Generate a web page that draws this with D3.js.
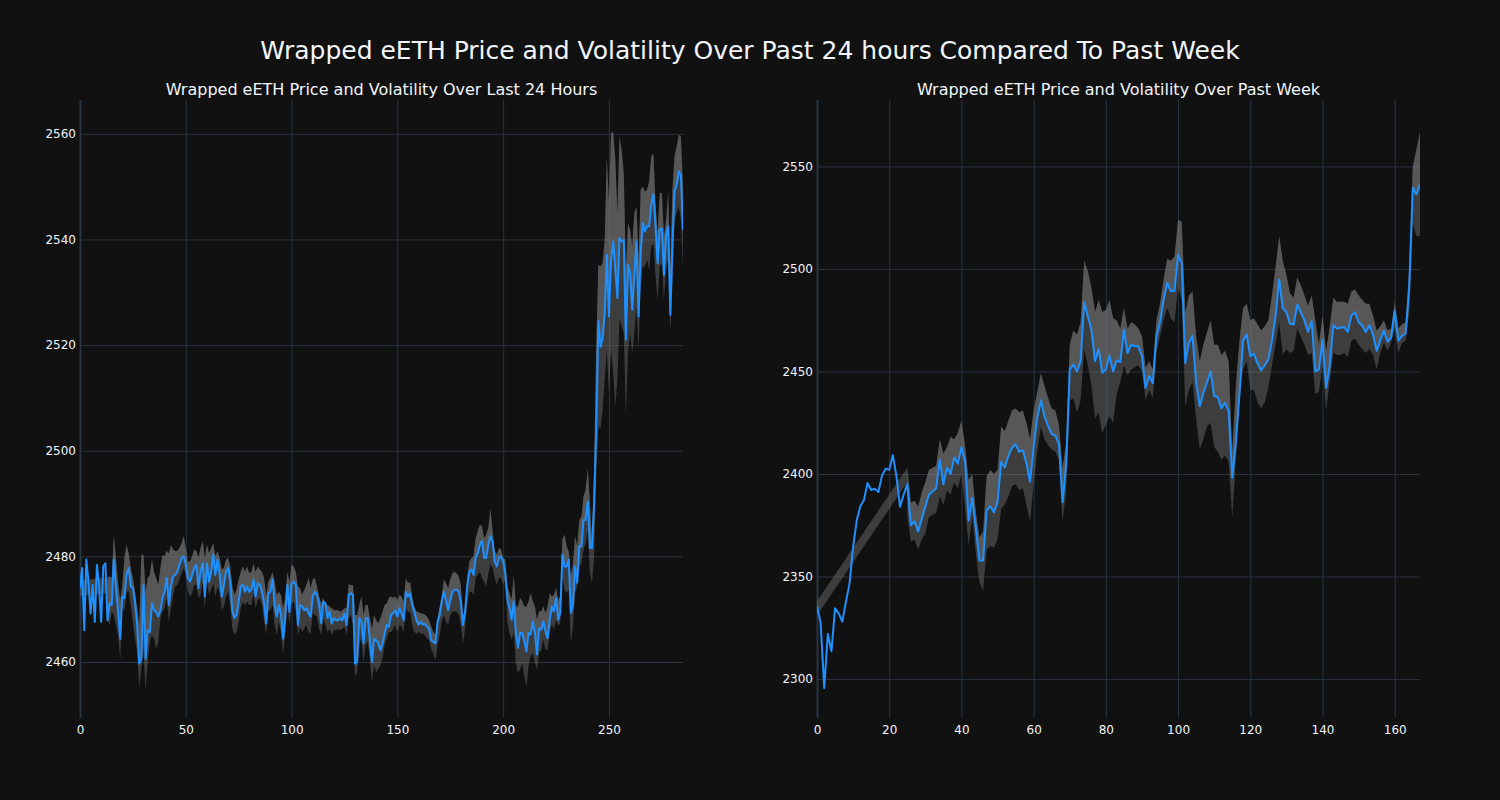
<!DOCTYPE html>
<html>
<head>
<meta charset="utf-8">
<script src="https://cdn.jsdelivr.net/npm/d3@7"></script>
<style>
  html, body { margin: 0; padding: 0; background: #111111; }
  svg { display: block; }
  text { font-family: "DejaVu Sans", Verdana, sans-serif; }
</style>
</head>
<body>
<svg id="chart" width="1500" height="800"></svg>
<script>
// ---------------- DATA ----------------
const mainTitle = "Wrapped eETH Price and Volatility Over Past 24 hours Compared To Past Week";
const dayTitle = "Wrapped eETH Price and Volatility Over Last 24 Hours";
const weekTitle = "Wrapped eETH Price and Volatility Over Past Week";

const dayXTicks = [0, 50, 100, 150, 200, 250];
const dayYTicks = [2460, 2480, 2500, 2520, 2540, 2560];
const weekXTicks = [0, 20, 40, 60, 80, 100, 120, 140, 160];
const weekYTicks = [2300, 2350, 2400, 2450, 2500, 2550];

const dayPrice = [
2474.0,2477.8,2466.0,2479.4,2475.2,2469.2,2474.6,2467.6,2478.4,2474.6,
2467.6,2478.1,2478.7,2467.9,2471.1,2470.8,2479.4,2474.0,2469.5,2464.4,
2472.4,2472.1,2476.5,2477.8,2474.3,2474.0,2471.4,2467.0,2459.7,2460.6,
2474.6,2460.6,2466.0,2465.7,2471.1,2469.8,2469.5,2468.6,2469.8,2472.1,
2473.3,2475.9,2470.8,2474.3,2476.2,2476.5,2477.1,2478.4,2479.7,2480.0,
2478.4,2475.9,2475.2,2476.5,2477.8,2478.4,2474.0,2477.1,2478.7,2472.4,
2478.7,2475.2,2477.1,2480.3,2476.5,2479.4,2476.5,2472.4,2474.6,2477.1,
2477.8,2475.2,2469.5,2468.3,2468.9,2471.4,2474.3,2474.6,2473.3,2474.3,
2473.3,2473.7,2475.6,2472.4,2474.9,2474.6,2473.3,2471.1,2467.3,2473.0,
2473.3,2475.6,2470.8,2468.6,2470.8,2468.9,2464.4,2468.3,2474.6,2469.5,
2474.8,2475.2,2474.6,2467.0,2470.8,2470.5,2469.8,2470.2,2469.2,2468.6,
2472.4,2473.3,2472.7,2470.8,2467.3,2471.4,2471.1,2468.3,2469.5,2467.3,
2468.3,2467.9,2467.9,2468.3,2467.9,2469.2,2467.0,2472.7,2473.0,2472.7,
2459.7,2460.0,2468.3,2467.6,2463.5,2468.3,2468.3,2464.1,2460.0,2464.4,
2464.1,2463.5,2462.2,2463.5,2465.4,2467.0,2466.7,2468.9,2469.2,2469.8,
2468.6,2470.2,2469.2,2467.9,2473.3,2472.4,2473.0,2470.8,2469.5,2467.9,
2467.1,2467.6,2467.1,2467.2,2466.7,2466.3,2464.1,2463.8,2463.5,2467.6,
2468.9,2471.4,2473.3,2471.7,2469.8,2471.7,2473.3,2473.7,2473.7,2473.3,
2471.4,2467.0,2469.5,2474.3,2477.1,2477.5,2476.5,2479.7,2480.6,2482.2,
2482.9,2479.7,2479.7,2482.2,2483.8,2482.9,2479.0,2478.1,2479.7,2480.0,
2479.0,2476.8,2471.8,2470.2,2468.0,2471.5,2465.5,2462.7,2465.5,2465.5,
2463.9,2462.0,2465.5,2465.2,2467.7,2465.5,2461.4,2466.4,2466.1,2467.7,
2465.8,2464.5,2468.0,2470.5,2469.6,2472.1,2468.0,2469.3,2480.3,2478.1,
2478.1,2479.4,2469.3,2470.9,2478.1,2475.0,2481.9,2481.9,2486.9,2486.9,
2490.4,2481.6,2481.6,2490.1,2504.0,2524.5,2519.7,2521.3,2526.0,2537.1,
2525.4,2536.0,2539.6,2534.3,2528.9,2540.3,2539.6,2539.9,2521.0,2535.2,
2533.6,2526.7,2533.0,2539.6,2525.4,2537.4,2543.1,2541.5,2542.5,2542.5,
2546.6,2548.5,2542.5,2535.5,2541.8,2542.1,2533.3,2540.6,2542.5,2525.7,
2538.7,2549.1,2550.3,2552.9,2552.2,2541.8
];

const dayUpper = [
2475.5,null,null,null,null,null,null,null,null,null,
null,null,null,2476.0,2476.2,2475.9,2484.1,2479.7,2474.9,2471.7,
2474.6,2479.7,2482.2,2480.6,2477.8,2475.9,2473.3,2470.2,2467.0,2480.3,
2480.3,2473.3,2475.9,2476.5,2479.4,2477.1,2475.9,2474.6,2477.8,2480.3,
2480.0,2481.0,2480.6,2482.2,2481.3,2481.0,2481.0,2481.6,2482.5,2483.8,
2481.6,2479.0,2479.0,2480.0,2481.3,2481.0,2479.7,2481.6,2482.9,2479.7,
2482.2,2480.6,2481.6,2482.5,2480.0,2481.0,2479.7,2477.5,2477.8,2479.4,
2479.7,2478.1,2474.3,2472.7,2473.7,2475.6,2477.1,2478.1,2477.1,2478.1,
2476.8,2477.1,2478.7,2477.1,2478.1,2477.5,2477.1,2475.9,2472.4,2475.2,
2475.9,2477.1,2475.2,2472.7,2473.3,2472.7,2470.2,2472.1,2477.1,2475.2,
2478.4,2478.1,2477.1,2474.3,2474.0,2472.7,2473.7,2474.6,2475.9,2474.0,
2475.6,2475.9,2474.3,2472.4,2471.1,2472.1,2471.1,2470.8,2470.5,2470.2,
2469.8,2469.8,2469.8,2469.5,2469.8,2470.2,2470.2,2474.7,2474.6,2474.6,
2468.9,2468.9,2470.8,2472.4,2468.9,2470.8,2470.8,2468.3,2466.3,2468.9,
2467.9,2467.3,2468.3,2469.5,2470.8,2471.1,2472.1,2472.4,2472.1,2472.4,
2471.7,2472.7,2472.4,2471.4,2475.9,2474.9,2475.2,2472.4,2470.5,2469.5,
2469.5,2469.2,2469.2,2469.0,2468.6,2467.9,2466.7,2465.7,2465.1,2468.3,
2470.5,2472.7,2475.6,2474.9,2474.0,2475.6,2476.8,2477.1,2476.8,2476.2,
2474.6,2468.9,2470.2,2475.9,2479.0,2479.7,2480.0,2483.5,2484.8,2486.0,
2485.7,2483.5,2484.1,2485.4,2489.0,2484.8,2481.0,2480.3,2481.6,2481.3,
2479.7,2479.4,2474.3,2473.0,2471.8,2476.5,2470.5,2470.5,2472.1,2471.5,
2470.5,2470.5,2471.5,2473.0,2471.5,2470.5,2468.0,2469.6,2469.6,2470.5,
2469.3,2470.5,2473.0,2472.4,2472.7,2474.0,2471.8,2472.4,2483.2,2484.1,
2481.9,2480.9,2476.2,2478.7,2483.8,2481.9,2486.9,2487.5,2491.4,2492.6,
2496.7,2490.1,2483.2,2497.0,2520.0,2535.2,2534.9,2535.5,2539.9,2555.7,
2546.9,2560.1,2560.4,2555.1,2545.0,2559.5,2557.0,2552.6,2534.3,2543.1,
2541.8,2538.7,2545.0,2546.2,2536.2,2549.4,2550.0,2549.1,2549.4,2551.0,
2555.7,2556.3,2546.9,2541.2,2548.8,2548.8,2540.6,2543.7,2549.1,2534.3,
2549.4,2555.7,2557.6,2559.8,2559.5,2550.0
];

const dayLower = [
2472.5,null,null,null,null,null,null,null,null,null,
null,null,null,2468.0,2467.0,2469.5,2468.9,2467.0,2465.1,2460.3,
2470.8,2469.5,2473.3,2473.3,2470.8,2467.6,2464.4,2461.9,2455.2,2458.7,
2461.9,2454.9,2460.0,2463.8,2465.1,2464.4,2462.5,2463.8,2468.3,2469.5,
2470.2,2472.1,2467.6,2470.2,2472.7,2474.3,2474.6,2475.6,2476.8,2477.8,
2476.5,2473.3,2472.4,2473.0,2474.6,2474.6,2472.1,2472.7,2475.2,2470.2,
2475.2,2472.7,2473.7,2474.9,2472.4,2474.3,2473.0,2469.8,2470.5,2472.4,
2473.3,2470.8,2466.3,2465.1,2465.7,2467.6,2470.2,2471.4,2470.8,2471.4,
2470.8,2470.8,2473.0,2470.2,2471.7,2472.1,2470.8,2467.9,2465.1,2469.5,
2469.8,2470.8,2467.0,2465.1,2467.6,2465.7,2461.6,2465.1,2471.1,2467.0,
2471.1,2471.4,2469.5,2465.1,2466.7,2465.7,2466.3,2467.0,2465.7,2465.4,
2469.2,2468.9,2468.6,2466.3,2465.1,2468.3,2467.0,2465.7,2466.3,2465.1,
2466.0,2466.0,2466.3,2466.0,2466.3,2466.7,2465.1,2468.3,2468.9,2467.0,
2457.1,2458.1,2463.2,2464.4,2460.0,2463.2,2463.8,2460.6,2456.2,2459.4,
2458.1,2458.7,2459.4,2460.6,2463.2,2464.4,2465.7,2465.7,2466.3,2467.0,
2465.7,2467.0,2466.7,2465.7,2470.2,2469.5,2469.5,2467.0,2465.7,2465.4,
2465.7,2465.4,2465.4,2465.1,2464.4,2464.1,2462.5,2461.6,2460.3,2463.2,
2465.1,2467.6,2468.9,2467.6,2467.0,2468.9,2469.5,2469.5,2469.5,2468.9,
2467.0,2463.5,2466.3,2470.8,2473.3,2473.3,2472.7,2475.9,2476.5,2477.1,
2475.9,2475.2,2474.3,2476.8,2478.4,2477.8,2475.9,2474.6,2475.9,2475.9,
2474.6,2475.6,2467.4,2465.5,2464.2,2465.5,2459.8,2457.9,2458.6,2459.8,
2457.3,2455.4,2459.2,2461.1,2461.7,2459.8,2458.6,2461.7,2462.3,2464.2,
2462.3,2462.3,2465.5,2467.1,2466.1,2468.0,2466.8,2467.4,2476.2,2473.7,
2473.1,2473.7,2463.6,2466.8,2473.1,2474.3,2478.1,2478.7,2481.3,2482.5,
2485.0,2476.8,2475.0,2480.0,2496.0,2504.6,2504.0,2507.8,2513.4,2519.1,
2510.9,2519.1,2514.7,2508.4,2513.4,2524.8,2523.5,2522.3,2506.5,2518.5,
2522.3,2518.5,2522.3,2527.3,2519.1,2531.1,2534.9,2534.9,2536.2,2534.3,
2538.7,2539.3,2533.0,2528.6,2534.9,2535.5,2528.6,2534.3,2536.2,2522.3,
2531.1,2543.7,2545.0,2546.2,2543.7,2534.3
];

const weekPrice = [
2335.5,2327.5,2295.6,2322.0,2313.5,2334.5,2332.0,2328.0,2337.5,2346.4,
2364.3,2377.3,2384.3,2387.3,2395.6,2392.2,2392.8,2391.2,2399.2,2402.6,
2402.0,2409.2,2399.0,2384.0,2390.0,2395.0,2375.0,2377.0,2372.0,2378.0,
2384.0,2390.0,2391.5,2393.0,2407.0,2395.0,2403.0,2400.0,2408.0,2405.0,
2413.0,2406.0,2377.3,2388.3,2373.3,2357.8,2357.8,2382.3,2384.3,2381.3,
2386.3,2406.0,2403.2,2408.8,2412.7,2414.5,2410.8,2411.6,2405.2,2396.2,
2413.2,2427.5,2436.0,2428.0,2423.5,2419.5,2418.7,2414.7,2386.3,2404.2,
2451.0,2453.4,2450.0,2455.0,2483.9,2476.9,2470.3,2455.0,2461.0,2449.4,
2451.0,2457.6,2450.0,2455.4,2454.6,2470.3,2459.0,2463.0,2462.4,2462.2,
2457.4,2442.0,2447.8,2444.4,2467.0,2474.0,2485.0,2493.2,2489.2,2489.2,
2506.8,2502.8,2454.0,2464.0,2467.3,2444.6,2433.0,2439.4,2444.6,2450.0,
2438.0,2437.4,2432.0,2434.7,2430.7,2398.2,2415.1,2439.0,2465.0,2468.0,
2457.4,2458.6,2454.0,2450.6,2453.0,2455.8,2465.0,2476.9,2494.8,2480.9,
2478.9,2473.3,2472.9,2482.5,2478.9,2474.9,2469.3,2474.5,2450.0,2451.0,
2465.3,2442.0,2453.0,2472.5,2470.9,2471.3,2471.7,2469.3,2477.3,2478.9,
2474.0,2472.3,2469.3,2472.5,2467.9,2460.0,2465.3,2469.9,2464.5,2466.5,
2479.3,2465.0,2467.3,2468.5,2489.8,2539.6,2536.3,2541.2
];

const weekUpper = [
2338,null,null,null,null,null,null,null,null,null,
null,null,null,null,null,null,null,null,null,null,
null,null,null,null,null,2403,2386,2387,2384,2391,
2396,2402,2403,2404,2417,2410,2413,2418,2417,2420,
2426,2414,2397,2400,2381,2369,2372,2399,2402,2400,
2402,2423,2421,2426,2431,2432,2430,2431,2425,2417,
2431,2440,2449,2443,2437,2432,2431,2424,2403,2415,
2463,2470,2468,2474,2504,2499,2491,2479,2485,2479,
2480,2485,2476,2475,2471,2481,2471,2474,2473,2471,
2467,2452,2455,2451,2475,2483,2495,2505,2504,2506,
2524,2523,2479,2487,2489,2467,2455,2463,2469,2475,
2463,2463,2458,2460,2455,2411,2443,2465,2481,2483,
2475,2476,2473,2470,2472,2475,2487,2501,2516,2504,
2497,2488,2486,2496,2492,2487,2482,2487,2475,2463,
2477,2460,2472,2486,2484,2484,2484,2483,2489,2490,
2487,2485,2483,2483,2477,2470,2472,2475,2470,2471,
2484,2471,2473,2474,2500,2550,2558,2567
];

const weekLower = [
2331,null,null,null,null,null,null,null,null,null,
null,null,null,null,null,null,null,null,null,null,
null,null,null,null,null,2380,2367,2368,2363,2368,
2371,2379,2380,2381,2389,2385,2392,2390,2396,2393,
2400,2383,2365,2379,2361,2347,2343,2363,2365,2364,
2368,2383,2385,2389,2394,2395,2392,2393,2385,2377,
2395,2411,2423,2417,2414,2412,2411,2407,2377,2391,
2436,2437,2430,2436,2461,2453,2443,2427,2430,2420,
2424,2428,2425,2439,2445,2453,2448,2451,2452,2453,
2450,2436,2441,2437,2459,2467,2475,2481,2476,2474,
2491,2485,2433,2441,2445,2427,2412,2417,2423,2425,
2413,2411,2407,2409,2406,2379,2407,2437,2451,2455,
2441,2441,2435,2432,2435,2442,2453,2463,2474,2458,
2461,2459,2460,2471,2467,2463,2458,2459,2439,2440,
2453,2431,2445,2459,2458,2458,2459,2457,2465,2466,
2463,2461,2459,2461,2458,2451,2459,2464,2460,2464,
2471,2459,2464,2465,2478,2522,2516,2516
];

// ---------------- STYLE / LAYOUT ----------------
const BG = "#111111";
const GRID = "#283442";
const TEXT = "#f2f5fa";
const LINE = "#1E90FF";
const BAND = "rgba(128,128,128,0.4)";
const FONT = '"DejaVu Sans", Verdana, sans-serif';

const svg = d3.select("#chart");
svg.append("rect").attr("width", 1500).attr("height", 800).attr("fill", BG);

svg.append("text")
  .attr("x", 750).attr("y", 59)
  .attr("text-anchor", "middle")
  .attr("fill", TEXT)
  .style("font-size", "25px")
  .text(mainTitle);

function drawPanel(cfg, id) {
  const x = d3.scaleLinear().domain([0, cfg.price.length - 1]).range([cfg.left, cfg.right]);
  const y = d3.scaleLinear().domain(cfg.yDomain).range([cfg.bottom, cfg.top]);
  const g = svg.append("g");

  // subplot title
  g.append("text")
    .attr("x", (cfg.left + cfg.right) / 2).attr("y", cfg.top - 5)
    .attr("text-anchor", "middle").attr("fill", TEXT)
    .style("font-size", "16px")
    .text(cfg.title);

  // grid + tick labels via axes
  const yAxis = d3.axisLeft(y).tickValues(cfg.yTicks).tickSize(-(cfg.right - cfg.left)).tickPadding(4).tickFormat(d3.format("d"));
  const yg = g.append("g").attr("transform", `translate(${cfg.left},0)`).call(yAxis);
  yg.select(".domain").remove();
  yg.selectAll("line").attr("stroke", GRID).attr("stroke-width", 1);
  yg.selectAll("text").attr("fill", TEXT).style("font-size", "12px").style("font-family", FONT);

  const xAxis = d3.axisBottom(x).tickValues(cfg.xTicks).tickSize(-(cfg.bottom - cfg.top)).tickPadding(7).tickFormat(d3.format("d"));
  const xg = g.append("g").attr("transform", `translate(0,${cfg.bottom})`).call(xAxis);
  xg.select(".domain").remove();
  xg.selectAll("line").attr("stroke", GRID).attr("stroke-width", d => d === 0 ? 2 : 1);
  xg.selectAll("text").attr("fill", TEXT).style("font-size", "12px").style("font-family", FONT);

  // clip
  svg.append("clipPath").attr("id", "clip" + id).append("rect")
    .attr("x", cfg.left).attr("y", cfg.top)
    .attr("width", cfg.right - cfg.left).attr("height", cfg.bottom - cfg.top);
  const plot = g.append("g").attr("clip-path", `url(#clip${id})`);

  const idx = d3.range(cfg.price.length);
  const firstFull = idx.find(i => i > 0 && cfg.upper[i] != null);

  // leading thin connector band (from index 0 to first full window)
  const w0 = cfg.upper[0] - cfg.lower[0];
  const connector = [
    [x(0), y(cfg.upper[0])], [x(firstFull), y(cfg.upper[firstFull])],
    [x(firstFull), y(cfg.upper[firstFull] - w0)], [x(0), y(cfg.lower[0])]
  ];
  plot.append("path").attr("d", "M" + connector.join("L") + "Z").attr("fill", BAND);

  // band between lower and upper
  const band = d3.area()
    .defined(i => i >= firstFull)
    .x(i => x(i)).y0(i => y(cfg.lower[i])).y1(i => y(cfg.upper[i]));
  plot.append("path").attr("d", band(idx)).attr("fill", BAND);

  // extra layer between price and upper
  const upperFill = d3.area()
    .defined(i => i >= firstFull)
    .x(i => x(i)).y0(i => y(cfg.price[i])).y1(i => y(cfg.upper[i]));
  plot.append("path").attr("d", upperFill(idx)).attr("fill", BAND);

  // price line
  const line = d3.line().x(i => x(i)).y(i => y(cfg.price[i]));
  plot.append("path").attr("d", line(idx))
    .attr("fill", "none").attr("stroke", LINE)
    .attr("stroke-width", 2).attr("stroke-linejoin", "round");
}

drawPanel({
  title: dayTitle, price: dayPrice, upper: dayUpper, lower: dayLower,
  left: 80, right: 683, top: 100, bottom: 718,
  yDomain: [2449.4, 2566.4], xTicks: dayXTicks, yTicks: dayYTicks
}, 1);

drawPanel({
  title: weekTitle, price: weekPrice, upper: weekUpper, lower: weekLower,
  left: 817, right: 1420, top: 100, bottom: 718,
  yDomain: [2281.0, 2582.4], xTicks: weekXTicks, yTicks: weekYTicks
}, 2);
</script>
</body>
</html>
